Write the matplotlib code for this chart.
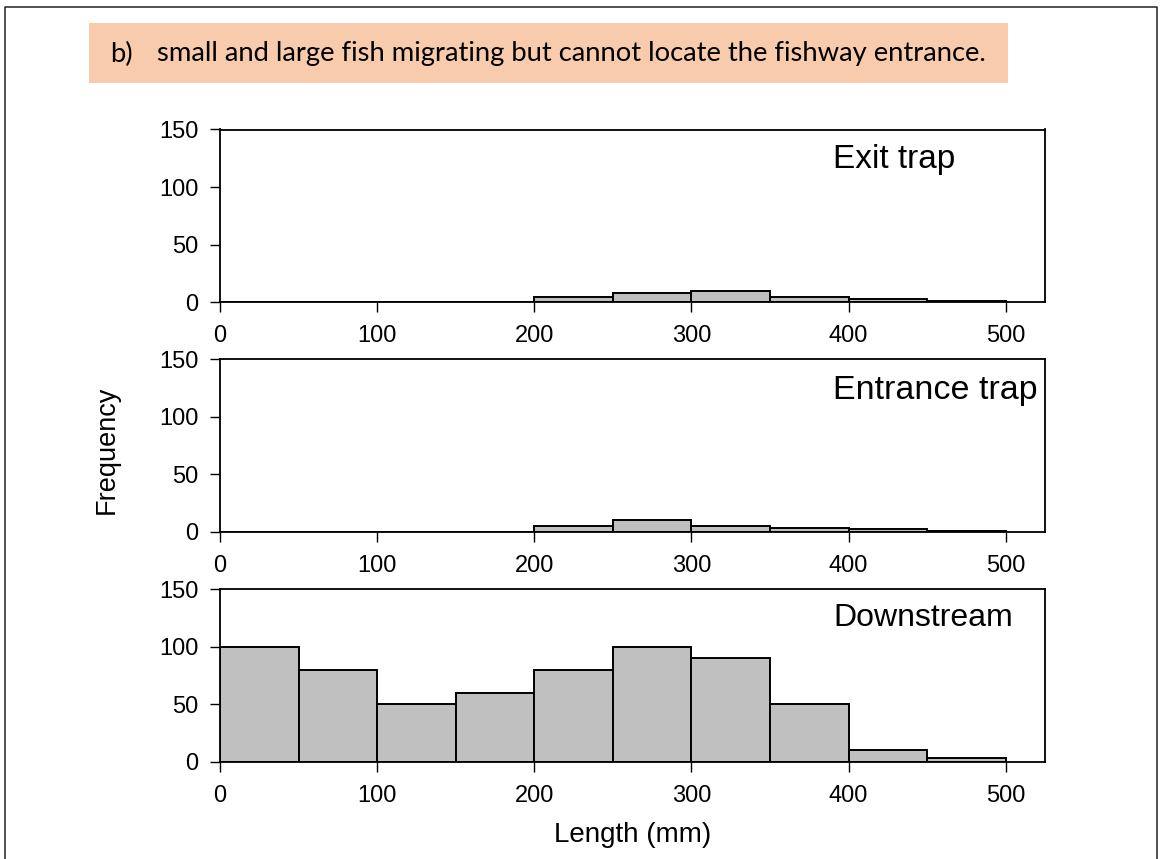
import numpy as np
import matplotlib.pyplot as plt
from matplotlib.patches import Rectangle
from matplotlib.lines import Line2D

plt.rcParams['font.family'] = ['Liberation Sans', 'DejaVu Sans']

############################################################
# Length-frequency data (50 mm bins)
############################################################
bin_edges = [0, 50, 100, 150, 200, 250, 300, 350, 400, 450, 500]
exit_trap = [0, 0, 0, 0, 5, 8, 10, 5, 3, 1]
entrance_trap = [0, 0, 0, 0, 5, 10, 5, 3, 2, 1]
downstream = [100, 80, 50, 60, 80, 100, 90, 50, 10, 3]

panel_names = ['Exit trap', 'Entrance trap', 'Downstream']
panel_counts = [exit_trap, entrance_trap, downstream]

y_ticks = [0, 50, 100, 150]
x_ticks = [0, 100, 200, 300, 400, 500]

caption_tag = 'b)'
caption = 'small and large fish migrating but cannot locate the fishway entrance.'

W, H = 1162, 859
fig = plt.figure(figsize=(W / 100, H / 100), dpi=100)

# outer frame (open at the bottom)
fig.add_artist(Line2D([4.5 / W, 4.5 / W, 1156.5 / W, 1156.5 / W],
                      [0, 1 - 7 / H, 1 - 7 / H, 0],
                      transform=fig.transFigure, color='#222222', lw=1.1))

# caption box
fig.add_artist(Rectangle((89 / W, 1 - 83 / H), (1008 - 89) / W, 60 / H,
                         transform=fig.transFigure, facecolor='#F8CBAD',
                         edgecolor='none'))
fig.text(110 / W, 1 - 54 / H, caption_tag, fontsize=19.7, family=['Lato'],
         va='center', ha='left')
fig.text(157 / W, 1 - 54 / H, caption, fontsize=19.7, family=['Lato'],
         va='center', ha='left')

# axes boxes: (top px, bottom px)
rows = [(129.5, 302.3), (359.4, 531.7), (589.0, 761.7)]
label_y = [0.829, 0.817, 0.832]
label_size = [24, 24.5, 23]
left, right = 220, 1045

edges = np.array(bin_edges)
for (top, bot), name, counts, ly, fs in zip(rows, panel_names, panel_counts,
                                            label_y, label_size):
    ax = fig.add_axes([left / W, 1 - bot / H, (right - left) / W, (bot - top) / H])
    ax.bar(edges[:-1], counts, width=np.diff(edges), align='edge',
           color='#C0C0C0', edgecolor='black', linewidth=1.4, zorder=2)
    ax.set_xlim(0, 525)
    ax.set_ylim(0, 150)
    ax.set_xticks(x_ticks)
    ax.set_yticks(y_ticks)
    for s in ax.spines.values():
        s.set_linewidth(1.3)
        s.set_color('black')
    ax.tick_params(axis='both', direction='out', length=7, width=1.0,
                   labelsize=17, colors='black')
    ax.tick_params(axis='y', pad=8.5)
    ax.tick_params(axis='x', pad=9.5)
    ax.text(0.743, ly, name, transform=ax.transAxes, fontsize=fs,
            ha='left', va='center')

fig.text(107 / W, 1 - 449.5 / H, 'Frequency', rotation=90, fontsize=19.5,
         ha='center', va='center')
fig.text(633 / W, 1 - 835 / H, 'Length (mm)', fontsize=20,
         ha='center', va='center')

plt.savefig('out.png', dpi=100)
